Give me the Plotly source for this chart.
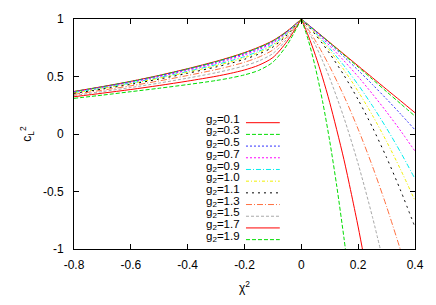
import plotly.graph_objects as go

# ---- data ----
g2_labels = ["0.1", "0.3", "0.5", "0.7", "0.9", "1.0", "1.1", "1.3", "1.5", "1.7", "1.9"]

left_x = [-0.8, -0.7, -0.6, -0.5, -0.4, -0.3, -0.25, -0.2, -0.15, -0.1, -0.05, 0.0]
left_y = {
    "0.1": [0.370, 0.412, 0.458, 0.510, 0.568, 0.632, 0.668, 0.708, 0.755, 0.812, 0.895, 1.0],
    "0.3": [0.369, 0.411, 0.457, 0.508, 0.566, 0.629, 0.665, 0.705, 0.751, 0.808, 0.892, 1.0],
    "0.5": [0.367, 0.409, 0.454, 0.505, 0.562, 0.624, 0.660, 0.699, 0.745, 0.802, 0.889, 1.0],
    "0.7": [0.364, 0.405, 0.449, 0.499, 0.554, 0.615, 0.650, 0.688, 0.734, 0.792, 0.883, 1.0],
    "0.9": [0.360, 0.400, 0.443, 0.491, 0.544, 0.603, 0.636, 0.673, 0.719, 0.778, 0.875, 1.0],
    "1.0": [0.357, 0.396, 0.438, 0.485, 0.537, 0.594, 0.626, 0.663, 0.708, 0.768, 0.869, 1.0],
    "1.1": [0.353, 0.391, 0.432, 0.478, 0.528, 0.583, 0.614, 0.650, 0.695, 0.756, 0.862, 1.0],
    "1.3": [0.345, 0.381, 0.419, 0.462, 0.509, 0.560, 0.590, 0.624, 0.668, 0.731, 0.847, 1.0],
    "1.5": [0.335, 0.369, 0.404, 0.443, 0.486, 0.533, 0.561, 0.593, 0.635, 0.700, 0.828, 1.0],
    "1.7": [0.324, 0.355, 0.387, 0.422, 0.460, 0.502, 0.527, 0.557, 0.598, 0.665, 0.806, 1.0],
    "1.9": [0.310, 0.338, 0.368, 0.398, 0.430, 0.465, 0.487, 0.514, 0.553, 0.625, 0.775, 1.0],
}

right_grid = [0.0, 0.025, 0.05, 0.075, 0.1, 0.15, 0.2, 0.25, 0.3, 0.35, 0.4]
right_x = {
    "0.1": right_grid, "0.3": right_grid, "0.5": right_grid, "0.7": right_grid,
    "0.9": right_grid, "1.0": right_grid, "1.1": right_grid,
    "1.3": [0.0, 0.025, 0.05, 0.075, 0.1, 0.15, 0.2, 0.25, 0.3, 0.35],
    "1.5": [0.0, 0.025, 0.05, 0.075, 0.1, 0.15, 0.2, 0.25, 0.29],
    "1.7": [0.0, 0.025, 0.05, 0.075, 0.1, 0.15, 0.2, 0.22],
    "1.9": [0.0, 0.025, 0.05, 0.075, 0.1, 0.125, 0.15, 0.16],
}
right_y = {
    "0.1": [1, 0.949, 0.898, 0.847, 0.796, 0.694, 0.592, 0.490, 0.388, 0.287, 0.185],
    "0.3": [1, 0.948, 0.897, 0.845, 0.793, 0.688, 0.582, 0.476, 0.368, 0.262, 0.155],
    "0.5": [1, 0.948, 0.895, 0.841, 0.786, 0.672, 0.554, 0.431, 0.304, 0.172, 0.036],
    "0.7": [1, 0.945, 0.888, 0.829, 0.767, 0.637, 0.498, 0.349, 0.192, 0.026, -0.150],
    "0.9": [1, 0.942, 0.880, 0.814, 0.744, 0.594, 0.428, 0.246, 0.050, -0.162, -0.390],
    "1.0": [1, 0.939, 0.873, 0.801, 0.725, 0.558, 0.370, 0.163, -0.065, -0.313, -0.580],
    "1.1": [1, 0.934, 0.862, 0.784, 0.699, 0.511, 0.298, 0.059, -0.205, -0.495, -0.810],
    "1.3": [1, 0.908, 0.809, 0.701, 0.585, 0.330, 0.042, -0.279, -0.631, -1.016],
    "1.5": [1, 0.893, 0.771, 0.635, 0.485, 0.141, -0.260, -0.719, -1.127],
    "1.7": [1, 0.851, 0.681, 0.488, 0.273, -0.223, -0.808, -1.067],
    "1.9": [1, 0.812, 0.572, 0.280, -0.063, -0.458, -0.904, -1.097],
}

x_ticks = [-0.8, -0.6, -0.4, -0.2, 0, 0.2, 0.4]
x_ticktext = ["-0.8", "-0.6", "-0.4", "-0.2", "0", "0.2", "0.4"]
y_ticks = [-1, -0.5, 0, 0.5, 1]
y_ticktext = ["-1", "-0.5", "0", "0.5", "1"]

# ---- styles ----
colors = ["#ff0000", "#00dd00", "#3030ff", "#ff00ff", "#00eeee", "#f0f000",
          "#000000", "#ff7040", "#a8a8a8", "#ff0000", "#00dd00"]
dashes = ["solid", "4px,2px", "2px,2px", "2px,2px", "5px,2px,1px,2px", "3px,2px,1px,2px",
          "2px,4px", "6px,2px,1px,2px", "3px,2px", "solid", "4px,2px"]
FONT = "Liberation Sans, Arial, sans-serif"

fig = go.Figure()
for i, g in enumerate(g2_labels):
    xs = left_x + [None] + right_x[g]
    ys = left_y[g] + [None] + right_y[g]
    fig.add_trace(go.Scatter(
        x=xs, y=ys, mode="lines", name="g<sub>2</sub>=" + g,
        line=dict(color=colors[i], width=1, dash=dashes[i], shape="spline", smoothing=0.8),
        connectgaps=False, showlegend=False, hoverinfo="skip"))

# manual gnuplot-style key: text right-justified, sample to the right
W, H = 436, 305
ml, mr, mt, mb = 74, 19, 15, 52
pw, ph = W - ml - mr, H - mt - mb
def px(xp):
    return (xp - ml) / pw
def py(yp):
    return 1 - (yp - mt) / ph

for i, g in enumerate(g2_labels):
    yc = 122.3 + i * 12.1
    fig.add_annotation(xref="paper", yref="paper", x=px(242), y=py(yc - 3),
                       text="g<sub>2</sub>=" + g, showarrow=False,
                       xanchor="right", yanchor="middle", borderpad=0,
                       font=dict(family=FONT, size=11.5, color="black"))
    fig.add_shape(type="line", xref="paper", yref="paper",
                  x0=px(247), x1=px(281), y0=py(yc), y1=py(yc),
                  line=dict(color=colors[i], width=1, dash=dashes[i]))

axis_common = dict(showline=True, linecolor="black", linewidth=1, mirror="ticks",
                   ticks="inside", ticklen=5, tickcolor="black", showgrid=False,
                   zeroline=False,
                   tickfont=dict(family=FONT, size=12, color="black"))

fig.update_layout(
    width=W, height=H,
    margin=dict(l=ml, r=mr, t=mt, b=mb),
    paper_bgcolor="white", plot_bgcolor="white",
    xaxis=dict(range=[-0.8, 0.4], tickvals=x_ticks, ticktext=x_ticktext,
               ticklabelstandoff=5,
               title=dict(text="χ<sup>2</sup>", standoff=12,
                          font=dict(family=FONT, size=12, color="black")),
               **axis_common),
    yaxis=dict(range=[-1, 1], tickvals=y_ticks, ticktext=y_ticktext,
               ticklabelstandoff=7,
               title=dict(text="c<sub>L</sub><sup>2</sup>", standoff=8,
                          font=dict(family=FONT, size=12, color="black")),
               **axis_common),
    showlegend=False,
)

fig.write_html("out.html", config={"displayModeBar": False},
               post_script="document.body.style.margin='0px';")
